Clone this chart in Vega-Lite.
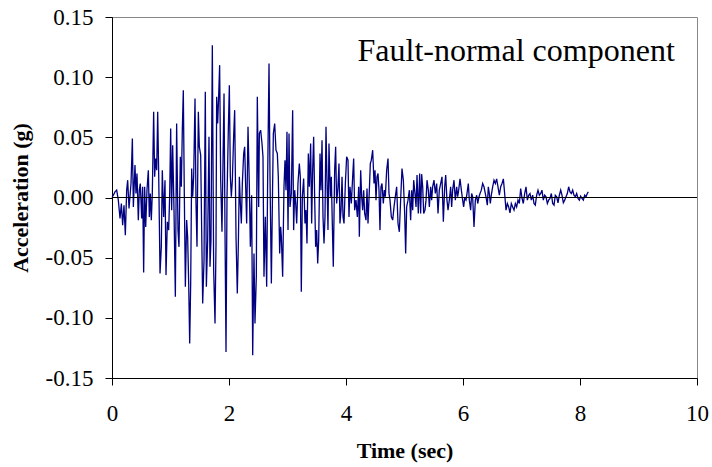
{
  "$schema": "https://vega.github.io/schema/vega-lite/v6.json",
  "width": 585,
  "height": 361,
  "autosize": {"type": "none"},
  "padding": {"left": 112, "top": 17, "right": 15, "bottom": 89},
  "background": "white",
  "config": {
    "view": {"stroke": "#888888", "strokeWidth": 1},
    "font": "Liberation Serif"
  },
  "datasets": {
    "accel": [
      {"t":0,"a":0},{"t":0.023,"a":0.0019},{"t":0.051,"a":0.0047},{"t":0.080,"a":0.0061},{"t":0.108,"a":-0.0022},{"t":0.137,"a":-0.0175},{"t":0.160,"a":-0.0050},{"t":0.182,"a":-0.0230},{"t":0.205,"a":-0.0064},{"t":0.228,"a":-0.0313},{"t":0.251,"a":0.0061},{"t":0.268,"a":0.0144},{"t":0.291,"a":-0.0091},{"t":0.325,"a":0.0116},{"t":0.348,"a":0.0490},{"t":0.365,"a":-0.0078},{"t":0.393,"a":0.0269},{"t":0.410,"a":0.0033},{"t":0.427,"a":0.0199},{"t":0.450,"a":-0.0188},{"t":0.467,"a":0.0061},{"t":0.484,"a":0.0116},{"t":0.507,"a":-0.0175},{"t":0.524,"a":0.0089},{"t":0.541,"a":-0.0623},{"t":0.558,"a":0.0089},{"t":0.576,"a":-0.0244},{"t":0.598,"a":0.0061},{"t":0.621,"a":0.0227},{"t":0.638,"a":-0.0161},{"t":0.655,"a":0.0033},{"t":0.672,"a":-0.0188},{"t":0.689,"a":0.0033},{"t":0.712,"a":0.0712},{"t":0.729,"a":0.0172},{"t":0.746,"a":0.0324},{"t":0.764,"a":0.0227},{"t":0.781,"a":0.0712},{"t":0.798,"a":0.0199},{"t":0.821,"a":-0.0632},{"t":0.843,"a":-0.0410},{"t":0.860,"a":0.0227},{"t":0.883,"a":-0.0161},{"t":0.906,"a":0.0144},{"t":0.923,"a":-0.0645},{"t":0.946,"a":-0.0202},{"t":0.969,"a":-0.0271},{"t":0.986,"a":0.0019},{"t":1.003,"a":0.0573},{"t":1.020,"a":-0.0105},{"t":1.037,"a":0.0435},{"t":1.060,"a":-0.0105},{"t":1.083,"a":-0.0825},{"t":1.105,"a":0.0615},{"t":1.128,"a":-0.0271},{"t":1.145,"a":-0.0410},{"t":1.168,"a":0.0338},{"t":1.185,"a":0.0089},{"t":1.202,"a":0.0560},{"t":1.219,"a":0.0892},{"t":1.236,"a":0.0033},{"t":1.254,"a":-0.0742},{"t":1.276,"a":-0.0188},{"t":1.293,"a":-0.0327},{"t":1.311,"a":-0.0715},{"t":1.328,"a":-0.1213},{"t":1.345,"a":-0.0715},{"t":1.362,"a":0.0241},{"t":1.379,"a":0.0006},{"t":1.396,"a":0.0172},{"t":1.419,"a":0.0823},{"t":1.436,"a":-0.0050},{"t":1.453,"a":-0.0410},{"t":1.476,"a":0.0712},{"t":1.493,"a":0.0421},{"t":1.516,"a":0.0352},{"t":1.533,"a":-0.0271},{"t":1.550,"a":-0.0881},{"t":1.573,"a":-0.0521},{"t":1.595,"a":0.0878},{"t":1.613,"a":-0.0742},{"t":1.635,"a":-0.0355},{"t":1.658,"a":0.0504},{"t":1.675,"a":-0.0576},{"t":1.692,"a":-0.0355},{"t":1.715,"a":0.1266},{"t":1.738,"a":-0.0604},{"t":1.761,"a":-0.1047},{"t":1.778,"a":-0.0382},{"t":1.789,"a":0.0837},{"t":1.806,"a":0.0615},{"t":1.823,"a":0.0837},{"t":1.840,"a":0.1100},{"t":1.858,"a":0.0144},{"t":1.880,"a":-0.0285},{"t":1.897,"a":0.0283},{"t":1.915,"a":0.0864},{"t":1.932,"a":-0.0299},{"t":1.949,"a":-0.1283},{"t":1.966,"a":0.0006},{"t":1.989,"a":0.0573},{"t":2.006,"a":0.0933},{"t":2.023,"a":0.0172},{"t":2.040,"a":0.0006},{"t":2.057,"a":0.0144},{"t":2.080,"a":0.0518},{"t":2.097,"a":0.0726},{"t":2.120,"a":-0.0327},{"t":2.142,"a":-0.0798},{"t":2.160,"a":-0.0382},{"t":2.177,"a":0.0172},{"t":2.194,"a":-0.0050},{"t":2.211,"a":-0.0216},{"t":2.228,"a":0.0116},{"t":2.251,"a":0.0366},{"t":2.268,"a":0.0421},{"t":2.285,"a":0.0089},{"t":2.302,"a":-0.0216},{"t":2.325,"a":0.0587},{"t":2.348,"a":0.0089},{"t":2.365,"a":-0.0410},{"t":2.387,"a":0.0019},{"t":2.405,"a":-0.1310},{"t":2.427,"a":-0.0465},{"t":2.444,"a":-0.1047},{"t":2.467,"a":-0.0659},{"t":2.484,"a":0.0837},{"t":2.507,"a":-0.0078},
      {"t":2.519,"a":0.0532},{"t":2.541,"a":0.0560},{"t":2.564,"a":0.0449},{"t":2.581,"a":0.0338},{"t":2.598,"a":-0.0659},{"t":2.621,"a":-0.0161},{"t":2.644,"a":-0.0742},{"t":2.661,"a":0.0172},{"t":2.684,"a":0.1114},{"t":2.701,"a":0.0172},{"t":2.724,"a":-0.0715},{"t":2.746,"a":0.0116},{"t":2.758,"a":0.0532},{"t":2.781,"a":0.0615},{"t":2.803,"a":0.0393},{"t":2.826,"a":0.0366},{"t":2.843,"a":0.0172},{"t":2.866,"a":-0.0465},{"t":2.883,"a":-0.0244},{"t":2.895,"a":-0.0327},{"t":2.917,"a":-0.0659},{"t":2.940,"a":0.0089},{"t":2.957,"a":0.0310},{"t":2.974,"a":0.0061},{"t":2.991,"a":0.0546},{"t":3.009,"a":-0.0271},{"t":3.026,"a":0.0532},{"t":3.043,"a":-0.0078},{"t":3.066,"a":0.0033},{"t":3.088,"a":0.0726},{"t":3.105,"a":-0.0271},{"t":3.123,"a":0.0061},{"t":3.140,"a":-0.0050},{"t":3.157,"a":-0.0216},{"t":3.179,"a":0.0116},{"t":3.202,"a":0.0283},{"t":3.219,"a":0.0172},{"t":3.236,"a":-0.0783},{"t":3.254,"a":0.0006},{"t":3.276,"a":0.0158},{"t":3.299,"a":-0.0216},{"t":3.316,"a":-0.0105},{"t":3.333,"a":-0.0382},{"t":3.356,"a":0.0366},{"t":3.373,"a":0.0089},{"t":3.396,"a":0.0449},{"t":3.413,"a":-0.0216},{"t":3.430,"a":0.0227},{"t":3.447,"a":0.0504},{"t":3.464,"a":0.0006},{"t":3.481,"a":-0.0410},{"t":3.499,"a":-0.0271},{"t":3.516,"a":-0.0548},{"t":3.533,"a":-0.0355},{"t":3.556,"a":0.0366},{"t":3.573,"a":0.0061},{"t":3.590,"a":0.0476},{"t":3.607,"a":-0.0161},{"t":3.624,"a":-0.0382},{"t":3.641,"a":-0.0161},{"t":3.658,"a":0.0587},{"t":3.675,"a":0.0144},{"t":3.692,"a":-0.0271},{"t":3.709,"a":0.0449},{"t":3.732,"a":0.0006},{"t":3.749,"a":0.0172},{"t":3.766,"a":-0.0216},{"t":3.783,"a":-0.0576},{"t":3.806,"a":0.0227},{"t":3.823,"a":0.0421},{"t":3.840,"a":-0.0050},{"t":3.863,"a":0.0089},{"t":3.880,"a":0.0283},{"t":3.897,"a":-0.0216},{"t":3.915,"a":-0.0105},{"t":3.932,"a":0.0172},{"t":3.949,"a":-0.0161},{"t":3.966,"a":-0.0216},{"t":3.989,"a":0.0116},{"t":4.011,"a":0.0338},{"t":4.034,"a":0.0310},{"t":4.051,"a":-0.0161},{"t":4.068,"a":0.0089},{"t":4.091,"a":-0.0050},{"t":4.114,"a":0.0172},{"t":4.131,"a":0.0324},{"t":4.148,"a":-0.0105},{"t":4.171,"a":-0.0022},{"t":4.194,"a":-0.0161},{"t":4.217,"a":0.0089},{"t":4.228,"a":-0.0327},{"t":4.251,"a":0.0227},{"t":4.268,"a":0.0006},{"t":4.285,"a":-0.0105},{"t":4.302,"a":0.0061},{"t":4.319,"a":-0.0133},{"t":4.342,"a":-0.0188},{"t":4.359,"a":0.0075},{"t":4.376,"a":-0.0216},{"t":4.399,"a":0.0061},{"t":4.416,"a":0.0283},{"t":4.433,"a":0.0310},{"t":4.456,"a":0.0393},{"t":4.479,"a":0.0116},{"t":4.496,"a":0.0227},{"t":4.513,"a":-0.0022},{"t":4.530,"a":0.0172},{"t":4.547,"a":0.0199},{"t":4.564,"a":0.0061},{"t":4.581,"a":-0.0271},{"t":4.598,"a":0.0089},{"t":4.615,"a":0.0116},{"t":4.638,"a":-0.0050},{"t":4.655,"a":0.0061},{"t":4.672,"a":0.0006},{"t":4.695,"a":0.0227},{"t":4.718,"a":0.0324},{"t":4.735,"a":0.0033},{"t":4.752,"a":-0.0022},{"t":4.775,"a":-0.0161},{"t":4.798,"a":-0.0188},{"t":4.821,"a":-0.0078},{"t":4.843,"a":0.0006},{"t":4.866,"a":0.0089},{"t":4.889,"a":-0.0216},{"t":4.912,"a":-0.0285},
      {"t":4.934,"a":-0.0022},{"t":4.957,"a":0.0241},{"t":4.980,"a":0.0144},{"t":5.003,"a":-0.0133},{"t":5.020,"a":-0.0465},{"t":5.037,"a":-0.0078},{"t":5.060,"a":-0.0022},{"t":5.083,"a":0.0061},{"t":5.105,"a":-0.0188},{"t":5.123,"a":0.0061},{"t":5.140,"a":-0.0105},{"t":5.157,"a":0.0144},{"t":5.179,"a":0.0033},{"t":5.197,"a":-0.0078},{"t":5.214,"a":0.0186},{"t":5.236,"a":-0.0133},{"t":5.259,"a":0.0199},{"t":5.276,"a":-0.0133},{"t":5.293,"a":0.0194},{"t":5.311,"a":0.0089},{"t":5.328,"a":-0.0133},{"t":5.350,"a":-0.0105},{"t":5.368,"a":-0.0022},{"t":5.385,"a":0.0144},{"t":5.407,"a":0.0061},{"t":5.425,"a":-0.0078},{"t":5.447,"a":0.0089},{"t":5.464,"a":-0.0022},{"t":5.481,"a":0.0089},{"t":5.504,"a":0.0144},{"t":5.527,"a":0.0033},{"t":5.550,"a":0.0116},{"t":5.573,"a":-0.0133},{"t":5.595,"a":0.0061},{"t":5.618,"a":0.0116},{"t":5.641,"a":0.0172},{"t":5.664,"a":-0.0202},{"t":5.687,"a":0.0089},{"t":5.704,"a":0.0186},{"t":5.726,"a":-0.0022},{"t":5.744,"a":-0.0105},{"t":5.766,"a":-0.0022},{"t":5.789,"a":0.0089},{"t":5.806,"a":-0.0078},{"t":5.823,"a":0.0061},{"t":5.846,"a":0.0144},{"t":5.869,"a":-0.0022},{"t":5.892,"a":0.0089},{"t":5.909,"a":0.0006},{"t":5.926,"a":0.0061},{"t":5.949,"a":0.0155},{"t":5.972,"a":0.0061},{"t":5.994,"a":-0.0022},{"t":6.011,"a":-0.0078},{"t":6.028,"a":-0.0008},{"t":6.051,"a":-0.0022},{"t":6.068,"a":0.0033},{"t":6.091,"a":0.0116},{"t":6.108,"a":-0.0022},{"t":6.131,"a":-0.0105},{"t":6.148,"a":0.0033},{"t":6.165,"a":0.0006},{"t":6.188,"a":-0.0244},{"t":6.211,"a":-0.0022},{"t":6.234,"a":0.0019},{"t":6.251,"a":-0.0050},{"t":6.274,"a":0.0006},{"t":6.291,"a":0.0033},{"t":6.313,"a":0.0061},{"t":6.336,"a":0.0116},{"t":6.359,"a":0.0089},{"t":6.376,"a":0.0047},{"t":6.393,"a":0.0006},{"t":6.416,"a":-0.0064},{"t":6.433,"a":0.0089},{"t":6.450,"a":0.0033},{"t":6.467,"a":-0.0050},{"t":6.484,"a":0.0019},{"t":6.507,"a":0.0089},{"t":6.530,"a":0.0144},{"t":6.553,"a":0.0116},{"t":6.575,"a":0.0155},{"t":6.598,"a":0.0089},{"t":6.621,"a":0.0019},{"t":6.644,"a":0.0089},{"t":6.667,"a":0.0116},{"t":6.690,"a":0.0155},{"t":6.712,"a":0.0033},{"t":6.735,"a":-0.0105},{"t":6.758,"a":-0.0050},{"t":6.781,"a":-0.0078},{"t":6.803,"a":-0.0127},{"t":6.826,"a":-0.0050},{"t":6.849,"a":-0.0078},{"t":6.872,"a":-0.0105},{"t":6.895,"a":-0.0050},{"t":6.917,"a":-0.0078},{"t":6.940,"a":-0.0022},{"t":6.963,"a":-0.0050},{"t":6.986,"a":0.0075},{"t":7.009,"a":-0.0008},{"t":7.031,"a":-0.0050},{"t":7.054,"a":0.0033},{"t":7.077,"a":0.0089},{"t":7.100,"a":-0.0022},{"t":7.123,"a":0.0019},{"t":7.145,"a":0.0033},{"t":7.168,"a":-0.0022},{"t":7.191,"a":0.0019},{"t":7.214,"a":-0.0050},{"t":7.236,"a":-0.0064},{"t":7.259,"a":0.0019},{"t":7.282,"a":0.0061},{"t":7.305,"a":0.0019},{"t":7.328,"a":0.0033},{"t":7.350,"a":0.0061},{"t":7.373,"a":-0.0022},{"t":7.396,"a":0.0019},{"t":7.419,"a":0.0006},{"t":7.442,"a":-0.0050},{"t":7.464,"a":-0.0022},{"t":7.487,"a":-0.0008},{"t":7.510,"a":0.0033},{"t":7.533,"a":-0.0050},{"t":7.556,"a":-0.0064},{"t":7.578,"a":0.0019},{"t":7.601,"a":0.0006},{"t":7.624,"a":-0.0044},{"t":7.647,"a":0.0019},{"t":7.670,"a":0.0061},{"t":7.692,"a":0.0019},{"t":7.715,"a":-0.0044},{"t":7.738,"a":-0.0022},{"t":7.761,"a":0.0006},{"t":7.783,"a":0.0033},{"t":7.806,"a":0.0089},{"t":7.829,"a":0.0047},{"t":7.852,"a":0.0033},{"t":7.875,"a":0.0061},{"t":7.897,"a":0.0019},{"t":7.920,"a":0.0006},{"t":7.943,"a":0.0033},{"t":7.966,"a":-0.0008},{"t":7.989,"a":-0.0022},{"t":8.011,"a":0.0011},{"t":8.034,"a":-0.0008},{"t":8.057,"a":-0.0022},{"t":8.080,"a":0.0019},{"t":8.103,"a":0.0006},{"t":8.125,"a":0.0033},{"t":8.142,"a":0.0047}
    ]
  },
  "layer": [
    {
      "data": {"name": "accel"},
      "mark": {"type": "line", "color": "#000080", "strokeWidth": 1.3, "interpolate": "linear"},
      "encoding": {
        "x": {
          "field": "t", "type": "quantitative",
          "scale": {"domain": [0, 10], "nice": false, "zero": false},
          "axis": {
            "title": "Time (sec)", "values": [0, 2, 4, 6, 8, 10], "format": "d",
            "labelFlush": false, "labelOverlap": false,
            "grid": false, "domainColor": "black", "tickColor": "black", "tickSize": 7,
            "labelFont": "Liberation Serif", "labelFontSize": 23, "labelColor": "black", "labelPadding": 17,
            "titleFont": "Liberation Serif", "titleFontSize": 22, "titleFontWeight": "bold", "titleColor": "black", "titlePadding": 15
          }
        },
        "y": {
          "field": "a", "type": "quantitative",
          "scale": {"domain": [-0.15, 0.15], "nice": false, "zero": false},
          "axis": {
            "title": "Acceleration (g)", "values": [-0.15, -0.1, -0.05, 0, 0.05, 0.1, 0.15], "format": ".2f",
            "labelExpr": "replace(datum.label, '\u2212', '-')",
            "labelFlush": false, "labelOverlap": false,
            "grid": false, "domainColor": "black", "tickColor": "black", "tickSize": 7,
            "labelFont": "Liberation Serif", "labelFontSize": 23, "labelColor": "black", "labelPadding": 12,
            "titleFont": "Liberation Serif", "titleFontSize": 22, "titleFontWeight": "bold", "titleColor": "black", "titlePadding": 13
          }
        }
      }
    },
    {
      "data": {"values": [{"z": 0}]},
      "mark": {"type": "rule", "color": "black", "strokeWidth": 1},
      "encoding": {"y": {"field": "z", "type": "quantitative"}}
    },
    {
      "data": {"values": [{"t": 9.62, "a": 0.1137, "label": "Fault-normal component"}]},
      "mark": {"type": "text", "align": "right", "baseline": "alphabetic", "font": "Liberation Serif", "fontSize": 32, "color": "black"},
      "encoding": {
        "x": {"field": "t", "type": "quantitative"},
        "y": {"field": "a", "type": "quantitative"},
        "text": {"field": "label"}
      }
    }
  ]
}
